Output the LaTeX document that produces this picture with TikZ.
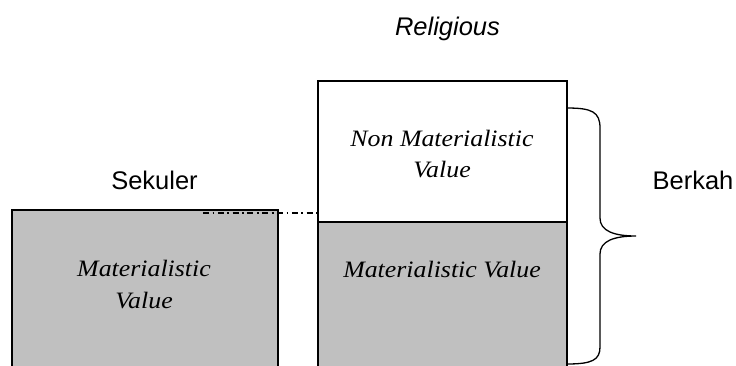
\documentclass[tikz,border=0pt]{standalone}
\usepackage{fontspec}
\setmainfont{Liberation Serif}
\setsansfont{Liberation Sans}
\definecolor{boxgrey}{HTML}{C0C0C0}
\begin{document}
\begin{tikzpicture}[x=1pt,y=-1pt,
  boxline/.style={draw=black,line width=1.4pt},
  serifval/.style={font=\fontsize{23.5}{28}\selectfont\rmfamily\itshape,anchor=base,inner sep=0pt},
  sanslabel/.style={font=\fontsize{25.5}{30}\selectfont\sffamily,anchor=base,inner sep=0pt},
  dashdot/.style={line width=1.3pt,dash pattern=on 6pt off 3.5pt on 1.8pt off 3.5pt},
  bracepath/.style={line width=1.3pt}]
\useasboundingbox (0,0) rectangle (736,365);
% left box
\path[fill=boxgrey,boxline] (12,210) rectangle (278,380);
% right box
\path[fill=white,boxline] (318,81) rectangle (567,222);
\path[fill=boxgrey,boxline] (318,222) rectangle (567,380);
% texts
\node[serifval] (lm1) at (144,276) {\scalebox{1.1}[1]{Materialistic}};
\node[serifval] (lm2) at (144,308) {\scalebox{1.1}[1]{Value}};
\node[serifval] (nm1) at (442,146) {\scalebox{1.1}[1]{Non Materialistic}};
\node[serifval] (nm2) at (442,177) {\scalebox{1.1}[1]{Value}};
\node[serifval] (rm) at (442,277) {\scalebox{1.1}[1]{Materialistic Value}};
\node[sanslabel,font=\fontsize{25.5}{30}\selectfont\sffamily\itshape] (rel) at (447.5,35) {Religious};
\node[sanslabel] (sek) at (154.5,189) {Sekuler};
\node[sanslabel] (ber) at (693,189) {Berkah};
% dash-dot connector
\coordinate (ddA) at (203,213);
\coordinate (ddB) at (320,213);
\draw[dashdot] (ddA) -- (ddB);
% brace
\coordinate (brTop) at (567,108);
\coordinate (brTip) at (636,236);
\coordinate (brBot) at (567,364);
\draw[bracepath] (brTop) .. controls (592,108) and (600,112) .. (600,128)
  -- (600,218) .. controls (600,231) and (614,236) .. (brTip)
  .. controls (614,236) and (600,241) .. (600,254)
  -- (600,347) .. controls (600,360) and (592,364) .. (brBot);
\end{tikzpicture}
\end{document}
